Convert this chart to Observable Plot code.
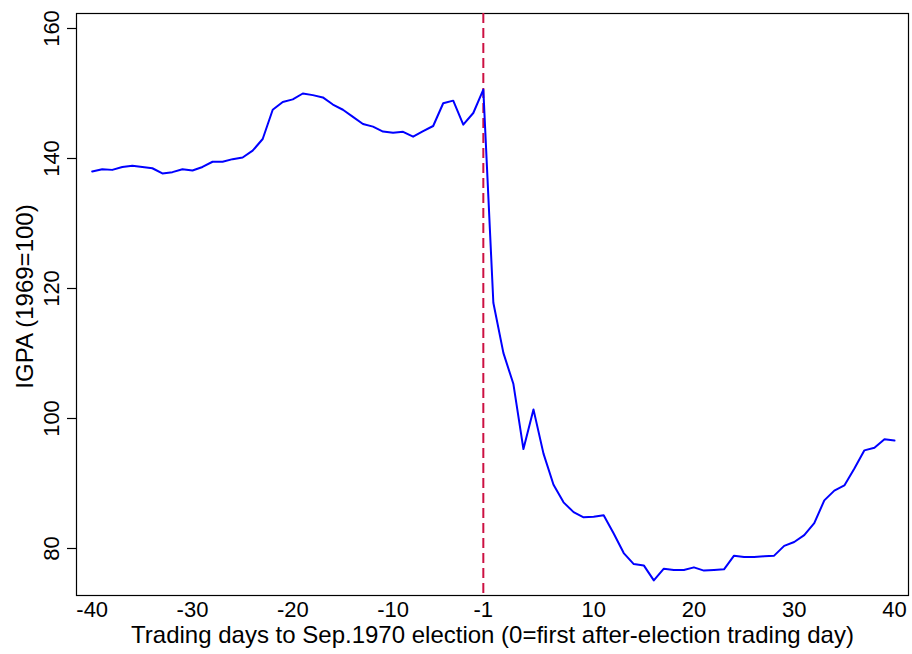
<!DOCTYPE html>
<html>
<head>
<meta charset="utf-8">
<script src="https://cdn.jsdelivr.net/npm/d3@7"></script>
<script src="https://cdn.jsdelivr.net/npm/@observablehq/plot@0.6"></script>
<style>
  html, body { margin: 0; padding: 0; background: #fff; }
  #chart svg { display: block; }
</style>
</head>
<body>
<div id="chart"></div>
<script>
// Trading days relative to the Sep. 1970 election
const days = d3.range(-40, 41);
// IGPA index (1969=100)
const igpa = [
  138.0, 138.35, 138.25, 138.7, 138.9, 138.7, 138.5, 137.7, 137.9, 138.35,
  138.15, 138.7, 139.5, 139.5, 139.9, 140.15, 141.2, 143.0, 147.5, 148.7,
  149.1, 150.0, 149.75, 149.4, 148.3, 147.5, 146.4, 145.3, 144.9, 144.15,
  143.95, 144.1, 143.35, 144.2, 145.0, 148.5, 148.9, 145.2, 147.0, 150.6,
  117.8, 110.1, 105.3, 95.3, 101.4, 94.6, 89.8, 87.1, 85.6, 84.8,
  84.9, 85.1, 82.3, 79.3, 77.6, 77.4, 75.1, 76.9, 76.7, 76.7,
  77.1, 76.6, 76.7, 76.8, 78.9, 78.7, 78.7, 78.8, 78.9, 80.4,
  81.0, 82.05, 83.9, 87.4, 88.9, 89.7, 92.3, 95.1, 95.5, 96.8,
  96.6
];
const electionDay = [-1];
const xTicks = [-40, -30, -20, -10, -1, 10, 20, 30, 40];
const xTickLabels = ["-40", "-30", "-20", "-10", "-1", "10", "20", "30", "40"];
const yTicks = [80, 100, 120, 140, 160];
const xTitle = "Trading days to Sep.1970 election (0=first after-election trading day)";
const yTitle = "IGPA (1969=100)";

const data = days.map((d, i) => ({day: d, igpa: igpa[i]}));
const font = "'Liberation Sans', Arial, Helvetica, sans-serif";

const chart = Plot.plot({
  width: 912,
  height: 654,
  marginLeft: 76,
  marginRight: 4,
  marginTop: 13,
  marginBottom: 59,
  style: {fontFamily: font, background: "#fff"},
  x: {domain: [-40, 40], range: [91.7, 894], axis: null},
  y: {domain: [80, 160], range: [548, 28], axis: null},
  marks: [
    Plot.frame({stroke: "#000", strokeWidth: 1.2}),
    Plot.axisY({ticks: yTicks, tickSize: 9, tickFormat: () => "", label: null, stroke: "#000", strokeWidth: 1.2}),
    Plot.text(yTicks, {y: d => d, frameAnchor: "left", dx: -25, rotate: -90, text: d => String(d), fontSize: 22, textAnchor: "middle", lineAnchor: "middle", fill: "#000"}),
    Plot.text(xTicks, {x: d => d, frameAnchor: "bottom", dy: 14, text: (d, i) => xTickLabels[i], fontSize: 22, textAnchor: "middle", lineAnchor: "middle", fill: "#000"}),
    Plot.text([xTitle], {frameAnchor: "bottom", dy: 40, text: d => d, fontSize: 24, textAnchor: "middle", lineAnchor: "middle", fill: "#000"}),
    Plot.text([yTitle], {frameAnchor: "left", dx: -51, dy: -8, rotate: -90, text: d => d, fontSize: 24, textAnchor: "middle", lineAnchor: "middle", fill: "#000"}),
    Plot.ruleX(electionDay, {x: d => d, stroke: "#cc1142", strokeWidth: 2, strokeDasharray: "10,5"}),
    Plot.line(data, {x: "day", y: "igpa", stroke: "#0000ff", strokeWidth: 2})
  ]
});
document.getElementById("chart").append(chart);
</script>
</body>
</html>
